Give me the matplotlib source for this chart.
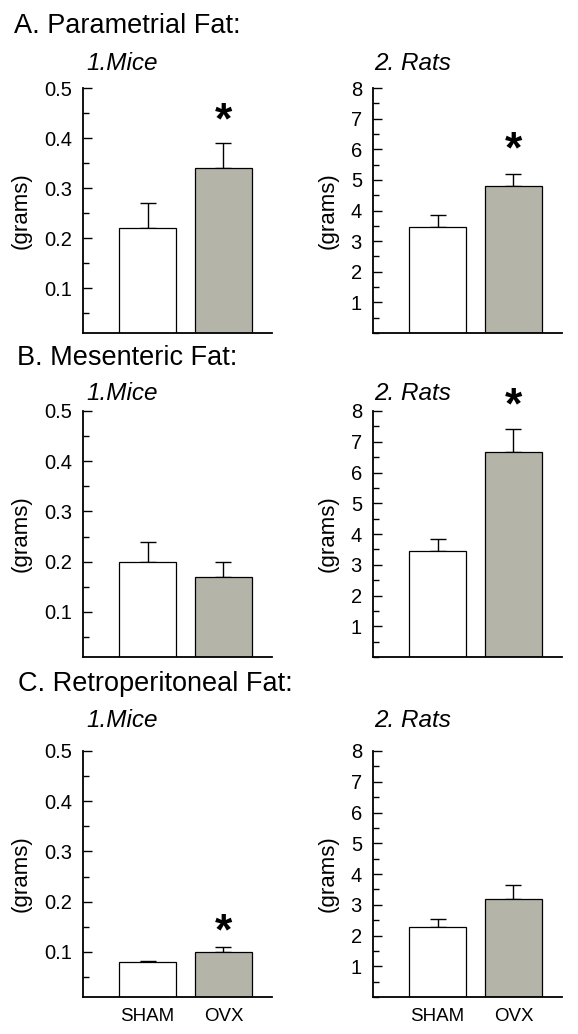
import numpy as np
import matplotlib
matplotlib.use('Agg')
import matplotlib.pyplot as plt
import matplotlib.transforms as mtransforms
from matplotlib.ticker import MultipleLocator

plt.rcParams['font.family'] = ['Liberation Sans', 'DejaVu Sans']

# groups on the x axis
groups = ['SHAM', 'OVX']

# fat pad weights (grams), mean and upper SEM
mice_para = [0.22, 0.34]
mice_para_err = [0.05, 0.05]
rats_para = [3.45, 4.80]
rats_para_err = [0.40, 0.40]

mice_mes = [0.20, 0.17]
mice_mes_err = [0.04, 0.03]
rats_mes = [3.45, 6.68]
rats_mes_err = [0.38, 0.73]

mice_retro = [0.080, 0.100]
mice_retro_err = [0.002, 0.010]
rats_retro = [2.28, 3.20]
rats_retro_err = [0.27, 0.44]

# significance stars (None = no star), height of the star
mice_para_star = 0.46
rats_para_star = 6.40
mice_mes_star = None
rats_mes_star = 8.59
mice_retro_star = 0.167
rats_retro_star = None

titles = ['A. Parametrial Fat:', 'B. Mesenteric Fat:', 'C. Retroperitoneal Fat:']
title_x = [14, 17, 18]
title_base = [33, 365, 691]
sub_base = [70, 400, 727]

W, H = 578, 1034
fig = plt.figure(figsize=(W / 100, H / 100), dpi=100)

bar_colors = ['white', '#b4b4a8']
x = np.arange(len(groups))

rows = [
    (mice_para, mice_para_err, mice_para_star, rats_para, rats_para_err, rats_para_star),
    (mice_mes, mice_mes_err, mice_mes_star, rats_mes, rats_mes_err, rats_mes_star),
    (mice_retro, mice_retro_err, mice_retro_star, rats_retro, rats_retro_err, rats_retro_star),
]
tops = [88, 411, 751]
bottoms = [333, 657, 997]
lefts = [83, 373]
ax_w = 189


def draw_panel(ax, vals, errs, star, species):
    ax.bar(x, vals, width=0.75, color=bar_colors, edgecolor='black', linewidth=0.9, zorder=2)
    ax.errorbar(x, vals, yerr=[[0, 0], errs], fmt='none', ecolor='black',
                elinewidth=1.0, capsize=6, capthick=1.0, zorder=1)
    ax.set_xlim(-0.85, 1.64)
    if species == 'mice':
        ax.set_ylim(0.01, 0.5)
        ax.yaxis.set_minor_locator(MultipleLocator(0.05))
        ax.set_yticks([0.1, 0.2, 0.3, 0.4, 0.5])
        ax.set_yticklabels(['0.1', '0.2', '0.3', '0.4', '0.5'])
        ax.yaxis.set_label_coords(-0.27, 0.5)
    else:
        ax.set_ylim(0, 8)
        ax.set_yticks(range(1, 9))
        ax.yaxis.set_minor_locator(MultipleLocator(0.5))
        ax.yaxis.set_label_coords(-0.18, 0.5)
    ax.set_ylabel('(grams)', fontsize=16)
    for s in ['top', 'right']:
        ax.spines[s].set_visible(False)
    for s in ['left', 'bottom']:
        ax.spines[s].set_linewidth(1.3)
    ax.tick_params(axis='y', which='major', direction='in', length=6.5, width=1.0,
                   labelsize=14.5, pad=8)
    ax.tick_params(axis='y', which='minor', direction='in', length=4.3, width=1.0)
    ax.tick_params(axis='x', length=0, labelsize=13.5, pad=8)
    if star is not None:
        fs = 32
        tr = mtransforms.offset_copy(ax.transData, fig=fig, y=-0.58 * fs, units='points')
        ax.text(x[1], star, '*', fontsize=fs, fontweight='bold', ha='center',
                va='baseline', transform=tr, clip_on=False)


for r, (mv, me, ms, rv, re, rs) in enumerate(rows):
    for c, (vals, errs, star, sp) in enumerate([(mv, me, ms, 'mice'), (rv, re, rs, 'rats')]):
        ax = fig.add_axes([lefts[c] / W, 1 - bottoms[r] / H, ax_w / W,
                           (bottoms[r] - tops[r]) / H])
        draw_panel(ax, vals, errs, star, sp)
        ax.set_xticks(x)
        if r == 2:
            ax.set_xticklabels(groups)
        else:
            ax.set_xticklabels([])
    fig.text(title_x[r] / W, 1 - title_base[r] / H, titles[r], fontsize=19.5,
             ha='left', va='baseline')
    fig.text(86 / W, 1 - sub_base[r] / H, '1.Mice', fontsize=17.5, style='italic',
             ha='left', va='baseline')
    fig.text(374 / W, 1 - sub_base[r] / H, '2. Rats', fontsize=17.5, style='italic',
             ha='left', va='baseline')

fig.savefig('out.png', dpi=100)
